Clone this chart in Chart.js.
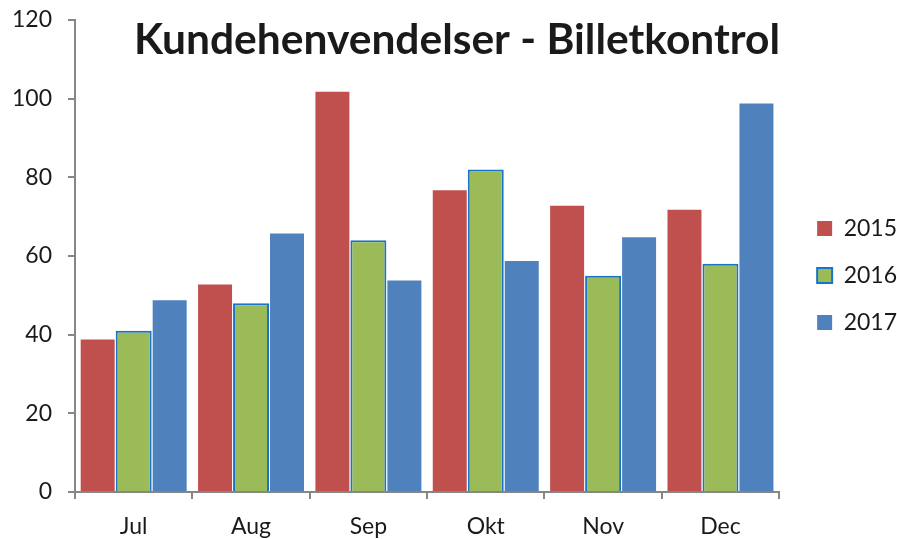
<!DOCTYPE html>
<html>
<head>
<meta charset="utf-8">
<script src="https://cdn.jsdelivr.net/npm/chart.js@4/dist/chart.umd.min.js"></script>
<style>
html,body{margin:0;padding:0;background:#fff;}
#wrap{width:897px;height:539px;}
</style>
</head>
<body>
<div id="wrap"><canvas id="c" width="897" height="539"></canvas></div>
<script>
const titleText = "Kundehenvendelser - Billetkontrol";
const categories = ["Jul", "Aug", "Sep", "Okt", "Nov", "Dec"];
const seriesNames = ["2015", "2016", "2017"];
const values2015 = [39, 53, 102, 77, 73, 72];
const values2016 = [41, 48, 64, 82, 55, 58];
const values2017 = [49, 66, 54, 59, 65, 99];
const yTicks = [0, 20, 40, 60, 80, 100, 120];

const FONT = "Lato, 'Open Sans', sans-serif";

const titlePlugin = {
  id: 'innerTitle',
  afterLayout(chart) {
    if (chart.legend) { chart.legend.top -= 4; chart.legend.bottom -= 4; }
  },
  afterDatasetsDraw(chart) {
    const ctx = chart.ctx;
    ctx.save();
    ctx.font = "bold 42.5px " + FONT;
    ctx.fillStyle = "#1a1a1a";
    ctx.textAlign = "center";
    ctx.textBaseline = "alphabetic";
    ctx.fillText(titleText, 457, 54);
    ctx.restore();
  }
};

new Chart(document.getElementById('c'), {
  type: 'bar',
  data: {
    labels: categories,
    datasets: [
      {label: seriesNames[0], data: values2015, backgroundColor: '#C0504D', borderColor: 'rgba(255,255,255,0.35)', borderWidth: 1},
      {label: seriesNames[1], data: values2016, backgroundColor: '#9BBB59', borderColor: '#1874C8', borderWidth: 2},
      {label: seriesNames[2], data: values2017, backgroundColor: '#4F81BD', borderColor: 'rgba(255,255,255,0.35)', borderWidth: 1}
    ]
  },
  options: {
    responsive: false,
    animation: false,
    devicePixelRatio: 1,
    layout: {padding: {left: 14, top: 20, right: -10, bottom: 0}},
    datasets: {bar: {categoryPercentage: 0.92, barPercentage: 1.0}},
    plugins: {
      legend: {
        position: 'right',
        labels: {
          font: {family: FONT, size: 23},
          color: '#1a1a1a',
          boxWidth: 15,
          boxHeight: 15,
          padding: 24,
          generateLabels(chart) {
            return chart.data.datasets.map((ds, i) => ({
              text: ds.label,
              fillStyle: ds.backgroundColor,
              strokeStyle: i === 1 ? ds.borderColor : ds.backgroundColor,
              lineWidth: i === 1 ? 2 : 0,
              datasetIndex: i,
              hidden: false,
              fontColor: '#1a1a1a'
            }));
          }
        }
      },
      tooltip: {enabled: false},
      title: {display: false}
    },
    scales: {
      x: {
        offset: true,
        grid: {display: true, offset: true, drawOnChartArea: false, drawTicks: true, tickLength: 7, color: '#868686', lineWidth: 2},
        border: {display: true, color: '#868686', width: 2},
        ticks: {font: {family: FONT, size: 23}, color: '#1a1a1a', padding: 14},
        afterFit(scale) { scale.height = 47; scale.paddingLeft = 0; scale.paddingRight = 0; }
      },
      y: {
        min: 0,
        max: 120,
        afterBuildTicks(axis) { axis.ticks = yTicks.map(v => ({value: v})); },
        grid: {display: true, drawOnChartArea: false, drawTicks: true, tickLength: 7, color: '#868686', lineWidth: 2},
        border: {display: true, color: '#868686', width: 2},
        ticks: {font: {family: FONT, size: 23}, color: '#1a1a1a', padding: 16},
        afterFit(scale) { scale.width = 61; scale.paddingTop = 0; scale.paddingBottom = 0; }
      },
      gap: {
        type: 'linear',
        position: 'right',
        display: true,
        grid: {display: false, drawTicks: false},
        border: {display: false},
        ticks: {display: false},
        afterFit(scale) { scale.width = 14; scale.paddingTop = 0; scale.paddingBottom = 0; }
      }
    }
  },
  plugins: [titlePlugin]
});
</script>
</body>
</html>
